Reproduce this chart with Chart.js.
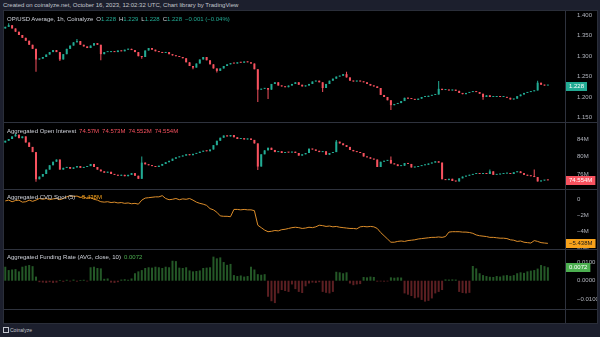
<!DOCTYPE html>
<html>
<head>
<meta charset="utf-8">
<script src="https://cdn.jsdelivr.net/npm/chart.js@4.4.0/dist/chart.umd.min.js"></script>
<style>
  html, body { margin: 0; padding: 0; }
  body { width: 600px; height: 337px; background: #1c1f2d; overflow: hidden; position: relative;
         font-family: 'Liberation Sans', Arial, sans-serif; }
  #hdr { position: absolute; left: 3px; top: 0; height: 10px; line-height: 10px; font-size: 6px; color: #c3c6ce; white-space: nowrap; }
  #frame { position: absolute; left: 3px; top: 10px; width: 595px; height: 314px; box-sizing: border-box;
           border: 1px solid #2a2e39; background: #000; }
  canvas { position: absolute; }
  .hl { position: absolute; left: 4px; width: 593px; height: 1px; background: #2e323d; }
  .vl { position: absolute; left: 565px; top: 11px; width: 1px; height: 312px; background: #2e323d; }
  .lg { position: absolute; left: 7px; height: 8px; line-height: 8px; font-size: 6px; color: #d1d4dc; white-space: nowrap; }
  .lg i { font-style: normal; margin-left: 3px; }
  .t { color: #22ab94; } .r { color: #f7525f; } .o { color: #f7a21b; } .g { color: #4caf50; }
  #foot { position: absolute; left: 3px; top: 327px; font-size: 5px; line-height: 6px; color: #c3c6ce; }
  #foot b { display: inline-block; width: 4px; height: 4px; border: 1px solid #c3c6ce; margin-right: 1px; vertical-align: -1px; }
</style>
</head>
<body>
<div id="hdr">Created on coinalyze.net, October 16, 2023, 12:02:32 UTC, Chart library by TradingView</div>
<div id="frame"></div>
<canvas id="cPrice" width="593" height="111" style="left:4px;top:11px"></canvas>
<canvas id="cOI" width="593" height="67" style="left:4px;top:122px"></canvas>
<canvas id="cCVD" width="593" height="60" style="left:4px;top:189px"></canvas>
<canvas id="cFund" width="593" height="73" style="left:4px;top:249px"></canvas>
<div class="hl" style="top:122px"></div>
<div class="hl" style="top:189px"></div>
<div class="hl" style="top:249px"></div>
<div class="hl" style="top:309px"></div>
<div class="vl"></div>
<div class="lg" style="top:15px">OP/USD Average, 1h, Coinalyze<i>O<span class="t">1.228</span></i><i>H<span class="t">1.229</span></i><i>L<span class="t">1.228</span></i><i>C<span class="t">1.228</span></i><i class="t">−0.001 (−0.04%)</i></div>
<div class="lg" style="top:127px">Aggregated Open Interest<i class="r">74.57M</i><i class="r">74.573M</i><i class="r">74.552M</i><i class="r">74.554M</i></div>
<div class="lg" style="top:193px">Aggregated CVD Spot (5)<i class="o">−5.438M</i></div>
<div class="lg" style="top:253px">Aggregated Funding Rate (AVG, close, 10)<i class="g">0.0072</i></div>
<div id="foot"><b></b>Coinalyze</div>
<script>
// ---------------- data (2h candles, hours counted from Oct 3 00:00) ----------------
const firstHour = 6;
const stepHours = 2;
const dayTicks = [4, 5, 6, 7, 8, 9, 10, 11, 12, 13, 14, 15, 16];

const priceOpen0 = 1.368;
const priceClose = [
  1.372,1.376,1.368,1.36,1.352,1.345,1.338,1.328,1.318,1.292,
  1.294,1.298,1.304,1.31,1.315,1.31,1.292,1.305,1.318,1.326,
  1.334,1.337,1.328,1.324,1.32,1.326,1.332,1.328,1.305,1.31,
  1.31,1.312,1.31,1.314,1.312,1.316,1.318,1.315,1.31,1.30,
  1.298,1.314,1.32,1.316,1.312,1.31,1.308,1.31,1.305,1.302,
  1.30,1.298,1.295,1.285,1.276,1.272,1.282,1.292,1.298,1.29,
  1.28,1.27,1.264,1.27,1.276,1.28,1.283,1.282,1.285,1.284,
  1.287,1.285,1.282,1.268,1.218,1.22,1.222,1.218,1.232,1.236,
  1.228,1.226,1.224,1.228,1.232,1.236,1.23,1.226,1.228,1.232,
  1.238,1.24,1.236,1.222,1.232,1.24,1.245,1.25,1.252,1.256,
  1.248,1.24,1.238,1.24,1.238,1.236,1.232,1.228,1.226,1.222,
  1.205,1.2,1.192,1.18,1.183,1.185,1.19,1.198,1.196,1.195,
  1.193,1.196,1.2,1.2,1.203,1.205,1.206,1.22,1.217,1.218,
  1.216,1.218,1.215,1.21,1.207,1.21,1.212,1.214,1.212,1.208,
  1.2,1.204,1.2,1.2,1.202,1.2,1.2,1.198,1.194,1.196,
  1.202,1.206,1.21,1.212,1.214,1.216,1.235,1.23,1.228,1.228
];
// [candle index, low, high] where a wick sticks out
const priceWicks = [
  [1, null, 1.381], [9, 1.262, null], [16, 1.288, null], [21, null, 1.342], [28, 1.29, null],
  [40, 1.294, null], [55, 1.268, null], [62, 1.26, null], [74, 1.188, null], [77, 1.195, null],
  [93, 1.212, null], [100, null, 1.262], [113, 1.168, null], [127, null, 1.239], [140, 1.193, null],
  [156, null, 1.24]
];
const priceTicks = [1.15, 1.2, 1.25, 1.3, 1.35, 1.4];

const oiOpen0 = 83.2;
const oiClose = [
  83.6,84.0,84.6,85.0,84.2,84.6,83.2,82.2,81.0,74.8,
  75.4,76.0,77.0,78.0,78.8,79.3,77.0,77.4,77.6,77.2,
  77.5,77.8,77.4,77.6,77.8,78.3,77.6,77.0,76.6,76.3,
  76.5,76.0,75.8,75.6,75.8,75.5,75.8,76.2,75.6,74.9,
  78.6,78.2,78.0,77.8,77.6,77.9,78.3,78.7,79.0,79.5,
  79.8,80.0,80.2,80.5,80.3,80.6,80.8,81.1,81.3,81.2,
  81.6,82.6,83.6,84.3,84.8,84.6,84.9,84.4,84.0,84.2,
  83.9,84.1,83.8,83.0,77.7,80.5,81.4,82.0,81.5,81.0,
  81.2,80.8,81.0,80.9,81.1,80.8,80.2,80.5,80.8,81.8,
  81.6,81.3,81.0,81.2,80.4,80.8,81.0,83.4,83.0,82.6,
  82.2,81.5,81.2,81.0,80.8,80.0,79.8,79.5,79.3,77.6,
  78.8,79.0,79.2,78.4,78.2,77.8,77.9,78.5,78.3,77.5,
  77.6,77.8,78.0,78.1,78.4,78.6,78.9,78.6,74.8,74.6,
  74.9,74.4,74.3,75.0,75.4,75.6,75.8,76.0,76.1,76.0,
  76.2,76.0,76.6,75.8,75.9,76.0,76.1,76.2,76.0,76.4,
  76.6,76.2,75.8,75.6,75.5,75.3,74.3,74.5,74.6,74.554
];
const oiWicks = [
  [3, null, 85.2], [9, 74.2, null], [40, null, 80.0], [74, 76.9, null], [97, null, 83.8],
  [113, null, 80.0], [142, null, 77.0], [155, null, 77.0]
];
const oiTicks = [76, 80, 84];

const cvd = [
  -0.2,-0.1,-0.3,-0.15,-0.1,-0.35,-0.3,-0.1,-0.25,-0.1,
  0.1,0.0,0.1,-0.05,0.05,0.1,-0.05,0.1,0.3,0.45,
  0.35,0.4,0.25,0.3,0.1,0.2,0.0,-0.1,-0.3,-0.35,
  -0.3,-0.4,-0.35,-0.45,-0.4,-0.5,-0.45,-0.55,-0.5,-0.6,
  -0.1,0.15,0.2,0.25,0.3,0.3,0.45,0.1,-0.05,0.0,
  0.1,-0.05,0.05,0.0,0.1,-0.1,-0.35,-0.5,-0.6,-0.75,
  -1.15,-1.3,-1.6,-2.05,-2.1,-2.1,-2.15,-1.25,-1.25,-1.3,
  -1.25,-1.3,-1.3,-1.4,-3.2,-3.5,-3.8,-4.0,-3.95,-3.85,
  -3.9,-3.75,-3.7,-3.6,-3.5,-3.45,-3.5,-3.6,-3.55,-3.45,
  -3.5,-3.4,-3.2,-3.25,-3.35,-3.3,-3.4,-3.35,-3.45,-3.5,
  -3.55,-3.6,-3.6,-3.65,-3.4,-3.35,-3.4,-3.35,-3.4,-3.6,
  -4.1,-4.5,-4.9,-5.3,-5.3,-5.2,-5.15,-5.2,-5.1,-5.05,
  -5.0,-4.9,-4.85,-4.8,-4.75,-4.7,-4.7,-4.65,-4.7,-4.6,
  -4.05,-4.0,-4.0,-4.0,-4.05,-4.05,-4.1,-4.2,-4.4,-4.5,
  -4.55,-4.6,-4.7,-4.7,-4.75,-4.8,-4.8,-4.85,-5.0,-5.05,
  -5.2,-5.15,-5.3,-5.35,-5.4,-5.1,-5.2,-5.35,-5.4,-5.438
];
const cvdTicks = [0, -2, -4, -6];

const funding = [
  0.0075,0.0057,0.006,0.0062,0.005,0.0075,0.008,0.0084,0.0078,0.0022,
  -0.0008,-0.001,-0.0012,-0.0008,-0.0012,-0.001,0.0004,-0.0006,0.0005,-0.0004,
  0.0006,-0.0005,0.0004,0.0005,-0.0004,0.0072,0.0075,0.0068,0.0066,0.001,
  0.0012,-0.001,-0.0012,-0.0008,0.0006,0.0008,0.0005,0.0012,0.004,0.005,
  0.0057,0.0068,0.0072,0.007,0.0075,0.0072,0.0068,0.0075,0.0072,0.0107,
  0.0105,0.007,0.0068,0.0072,0.0055,0.005,0.0052,0.0055,0.0068,0.007,
  0.0072,0.0129,0.012,0.0125,0.01,0.0085,0.009,0.003,0.0025,0.0028,
  0.0022,0.0025,0.0075,0.006,0.0035,0.0032,0.0035,-0.0086,-0.011,-0.012,
  -0.0068,-0.005,-0.0055,-0.006,-0.002,-0.0045,-0.006,-0.0066,-0.003,-0.0015,
  -0.001,-0.0012,-0.0008,-0.006,-0.0065,-0.0068,-0.006,0.0048,0.0045,0.004,
  0.0045,-0.0015,-0.0024,-0.002,-0.0018,0.002,0.0018,0.0022,0.002,-0.0005,
  -0.0004,-0.0005,-0.0004,0.0018,0.0016,0.0018,0.0017,-0.0068,-0.0075,-0.0082,
  -0.0094,-0.009,-0.0103,-0.0112,-0.0108,-0.0095,-0.0068,-0.006,-0.005,0.0007,
  0.0006,0.0007,0.0006,-0.006,-0.0066,-0.0068,-0.0065,0.0079,0.0066,0.004,
  0.003,0.0025,0.0021,0.002,0.0025,0.0022,0.0028,0.003,0.0026,0.003,
  0.004,0.0045,0.0042,0.005,0.0054,0.0057,0.0065,0.0084,0.0078,0.0072
];
const fundingTicks = [0.01, 0, -0.01];

// ---------------- styles / layout ----------------
const UP = '#22ab94';
const DOWN = '#f7525f';
const AXIS_TEXT = '#b2b5be';
const X_MIN = 5.25;
const X_MAX = 334.03;

Chart.defaults.font.family = "'Liberation Sans', Arial, sans-serif";
Chart.defaults.font.size = 6;

const hourOf = i => firstHour + i * stepHours;
const minus = s => s.replace('-', '−');

function buildCandles(open0, closes, wicks) {
    const extra = {};
    wicks.forEach(([i, lo, hi]) => { extra[i] = [lo, hi]; });
    let open = open0;
    return closes.map((close, i) => {
        const w = extra[i] || [null, null];
        const k = {
            x: hourOf(i), o: open, c: close,
            l: w[0] ?? Math.min(open, close),
            h: w[1] ?? Math.max(open, close)
        };
        open = close;
        return k;
    });
}

function candleSets(candles) {
    const col = candles.map(k => k.c >= k.o ? UP : DOWN);
    return [
        { data: candles.map(k => ({ x: k.x, y: [k.l, k.h] })), backgroundColor: col, barThickness: 1, inflateAmount: 0, grouped: false, order: 2 },
        { data: candles.map(k => ({ x: k.x, y: [k.o, k.c] })), backgroundColor: col, barThickness: 2, inflateAmount: 0, grouped: false, minBarLength: 1, order: 1 }
    ];
}

function tagPlugin(value, text, bg, fg) {
    return {
        id: 'lastTag',
        afterDraw(chart) {
            const ctx = chart.ctx;
            const y = Math.round(chart.scales.y.getPixelForValue(value));
            const x = chart.chartArea.right + 1;
            ctx.save();
            ctx.font = "6px 'Liberation Sans', Arial, sans-serif";
            const w = ctx.measureText(text).width + 6;
            ctx.fillStyle = bg;
            ctx.fillRect(x, y - 4, w, 9);
            ctx.fillStyle = fg;
            ctx.textBaseline = 'middle';
            ctx.fillText(text, x + 3, y + 0.5);
            ctx.restore();
        }
    };
}

function baseOptions(yMin, yMax, yTicks, fmt, showX) {
    const x = {
        type: 'linear', min: X_MIN, max: X_MAX, offset: false, display: showX,
        grid: { display: false }, border: { display: false },
        afterBuildTicks: s => { s.ticks = dayTicks.map(d => ({ value: (d - 3) * 24 })); },
        ticks: { color: AXIS_TEXT, padding: 4, maxRotation: 0, autoSkip: false, callback: v => String(v / 24 + 3) }
    };
    if (showX) x.afterFit = s => { s.height = 13; s.paddingLeft = 0; s.paddingRight = 0; };
    return {
        responsive: false, animation: false, events: [],
        layout: { padding: 0, autoPadding: false },
        plugins: { legend: { display: false }, tooltip: { enabled: false } },
        scales: {
            x: x,
            y: {
                position: 'right', min: yMin, max: yMax,
                grid: { display: false }, border: { display: false },
                afterBuildTicks: s => { s.ticks = yTicks.map(v => ({ value: v })); },
                ticks: { color: AXIS_TEXT, padding: 4, callback: fmt },
                afterFit: s => { s.width = 32; s.paddingTop = 0; s.paddingBottom = 0; }
            }
        }
    };
}

//----------------------------- Price -----------------------------------
new Chart(document.getElementById('cPrice'), {
    type: 'bar',
    data: { datasets: candleSets(buildCandles(priceOpen0, priceClose, priceWicks)) },
    options: baseOptions(1.1387, 1.4108, priceTicks, v => v.toFixed(3), false),
    plugins: [tagPlugin(priceClose[priceClose.length - 1], '1.228', '#22ab94', '#ffffff')]
});

//----------------------------- Open interest -----------------------------------
new Chart(document.getElementById('cOI'), {
    type: 'bar',
    data: { datasets: candleSets(buildCandles(oiOpen0, oiClose, oiWicks)) },
    options: baseOptions(72.571, 87.886, oiTicks, v => v + 'M', false),
    plugins: [tagPlugin(oiClose[oiClose.length - 1], '74.554M', '#f7525f', '#ffffff')]
});

//----------------------------- CVD -----------------------------------
new Chart(document.getElementById('cCVD'), {
    type: 'line',
    data: {
        datasets: [{
            data: cvd.map((v, i) => ({ x: hourOf(i), y: v })),
            borderColor: '#dc8d2a', borderWidth: 1, pointRadius: 0, tension: 0, fill: false
        }]
    },
    options: baseOptions(-6.136, 1.272, cvdTicks, v => v === 0 ? '0' : minus(v + 'M'), false),
    plugins: [tagPlugin(cvd[cvd.length - 1], '−5.438M', '#f7a21b', '#1a1a1a')]
});

//----------------------------- Funding -----------------------------------
new Chart(document.getElementById('cFund'), {
    type: 'bar',
    data: {
        datasets: [{
            data: funding.map((v, i) => ({ x: hourOf(i), y: v })),
            backgroundColor: funding.map(v => v >= 0 ? '#245827' : '#5c1f22'),
            barThickness: 2, inflateAmount: 0, grouped: false
        }]
    },
    options: baseOptions(-0.01517, 0.0170, fundingTicks, v => minus(v.toFixed(4)), true),
    plugins: [tagPlugin(funding[funding.length - 1], '0.0072', '#4caf50', '#ffffff')]
});
</script>
</body>
</html>
